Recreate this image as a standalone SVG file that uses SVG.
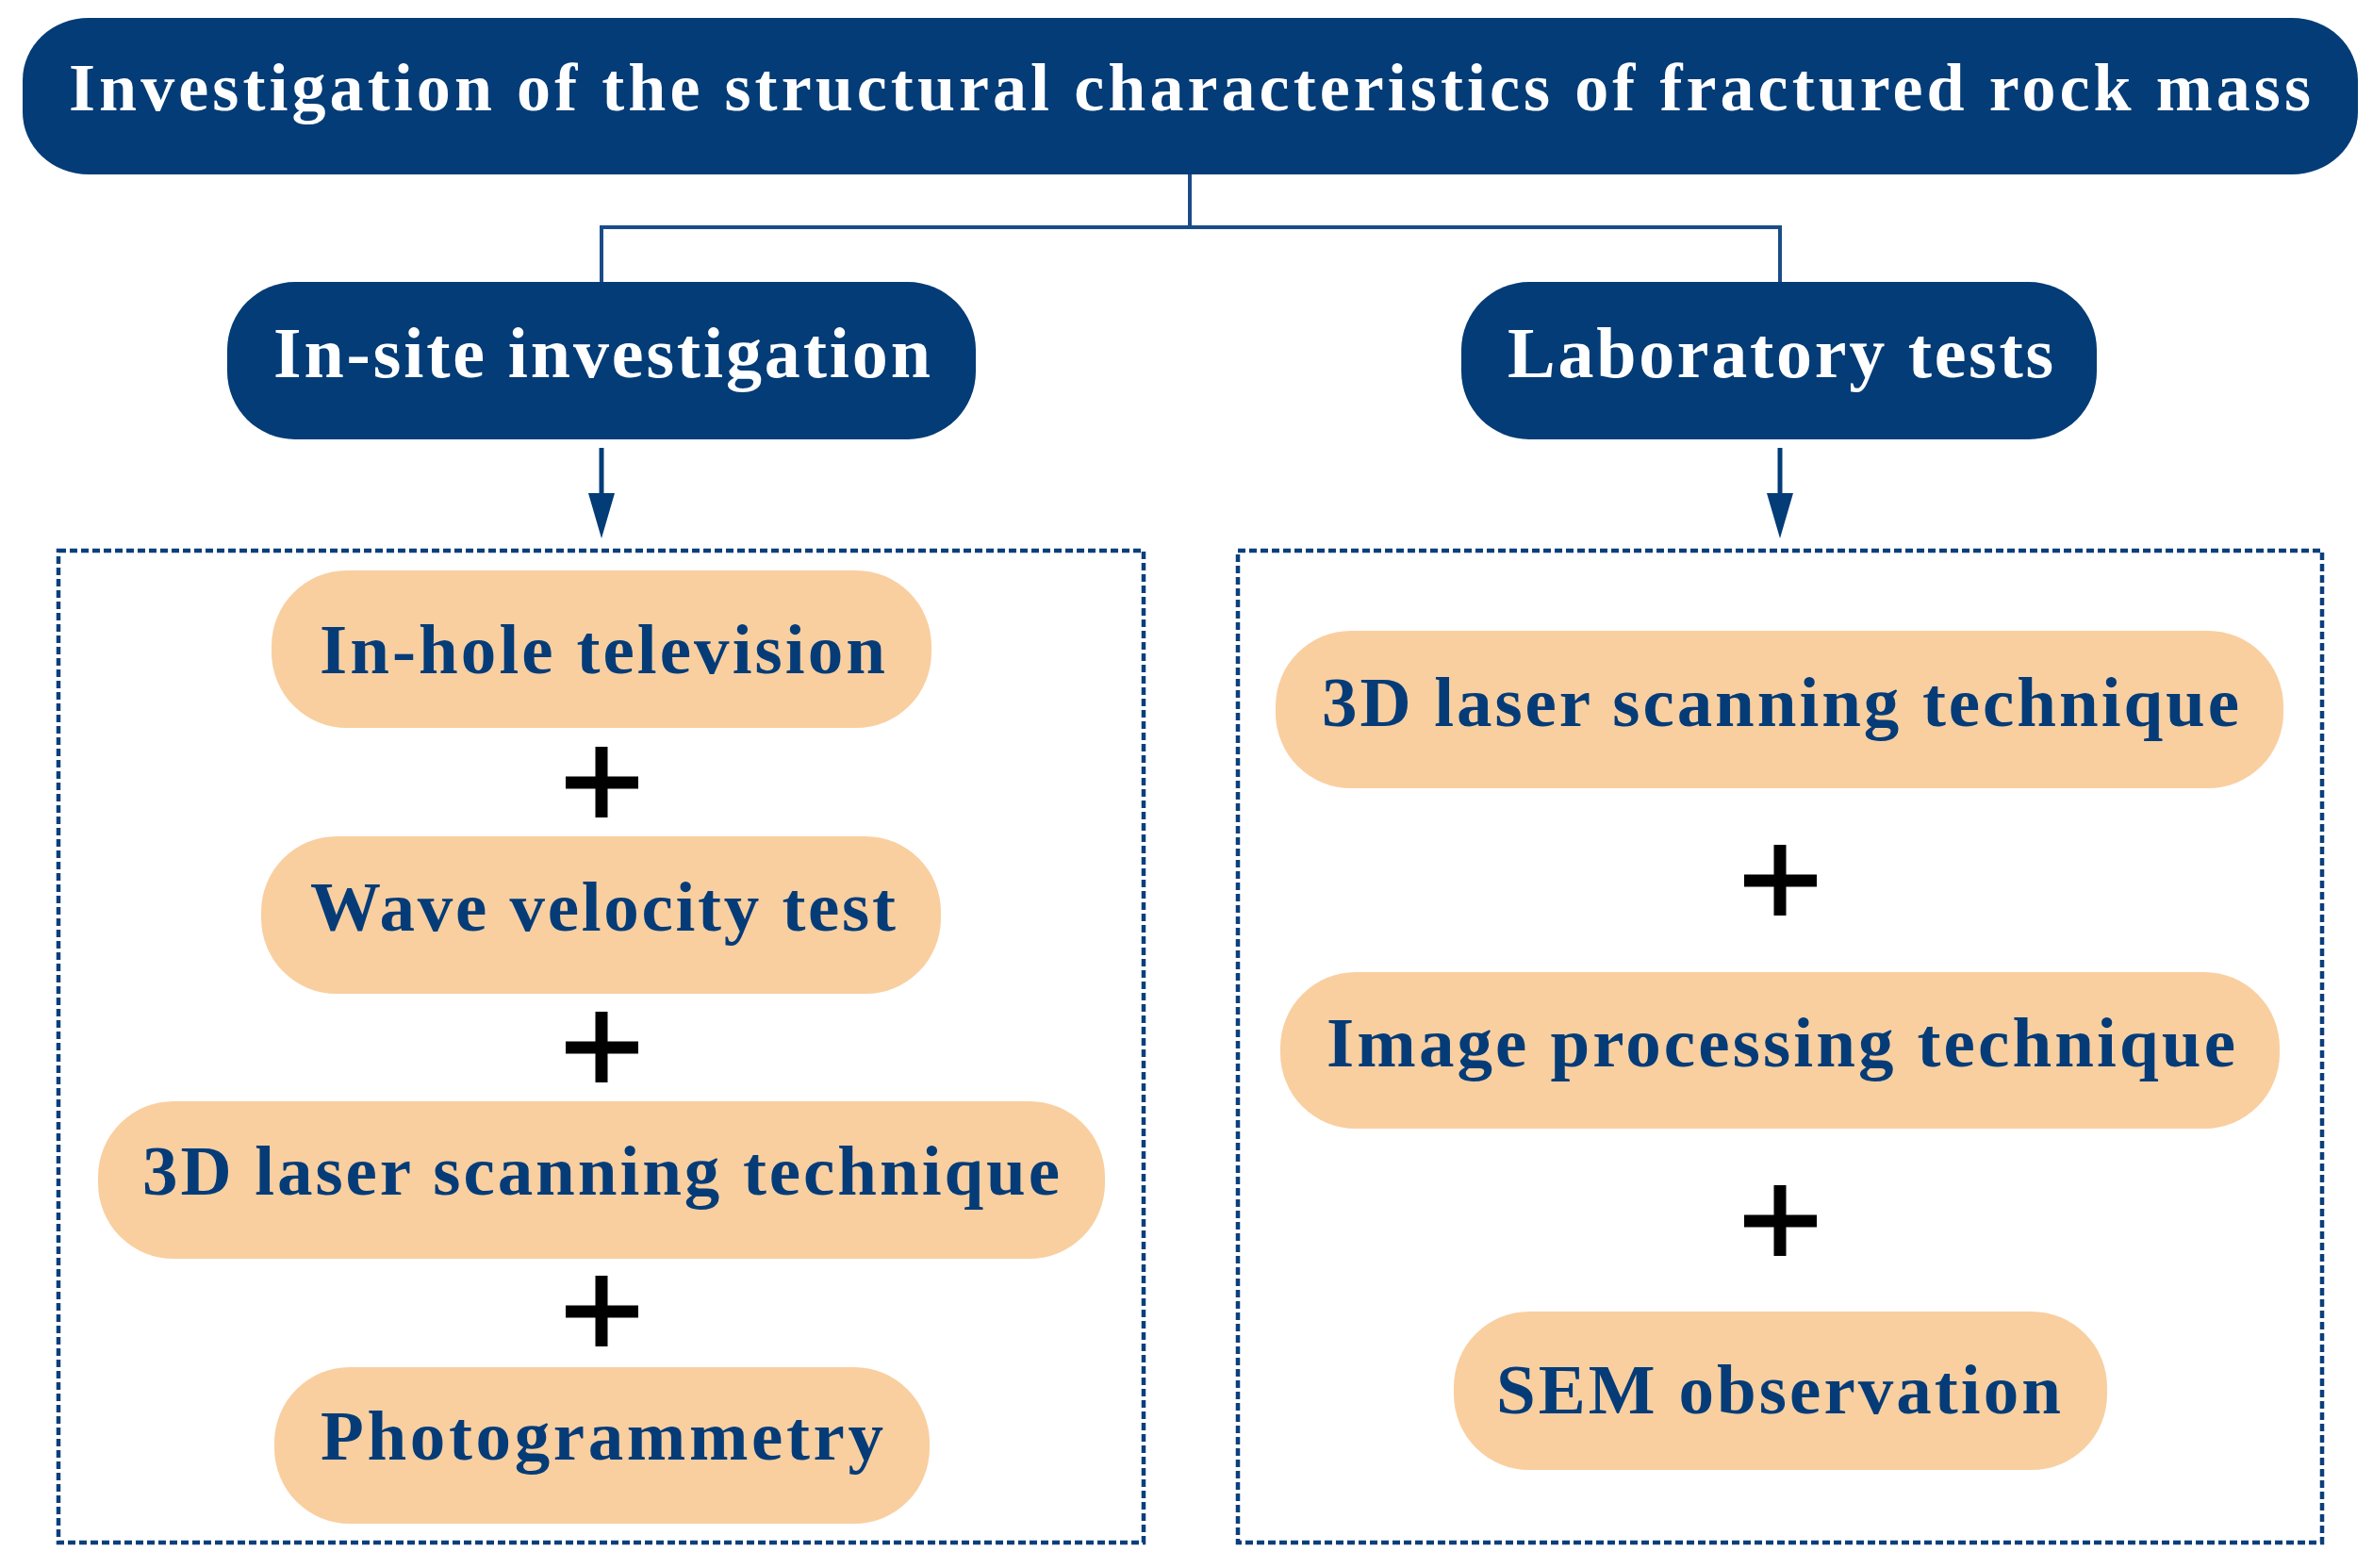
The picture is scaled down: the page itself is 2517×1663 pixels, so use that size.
<svg xmlns="http://www.w3.org/2000/svg" width="2517" height="1663" viewBox="0 0 2517 1663">
  <style>
    .navy { fill: #033c77; }
    .pill { fill: #f9cfa0; }
    .ttl { font-family: "Liberation Serif", "Times New Roman", serif; font-weight: bold; fill: #ffffff; }
    .lbl { font-family: "Liberation Serif", "Times New Roman", serif; font-weight: bold; fill: #053c78; font-size: 75px; }
    .conn { stroke: #1a4c88; stroke-width: 4; fill: none; }
    .dash { stroke: #0b3f7c; stroke-width: 4.5; fill: none; stroke-dasharray: 8 4; }
    .plus { stroke: #000000; stroke-width: 13; fill: none; }
  </style>
  <rect width="2517" height="1663" fill="#ffffff"/>

  <g id="connectors">
    <path class="conn" d="M1262,185 V241 M638,300 V241 H1888 V300"/>
    <line x1="638" y1="475" x2="638" y2="525" stroke="#033c77" stroke-width="5"/>
    <path d="M624,523 L652,523 L638,571 Z" fill="#033c77"/>
    <line x1="1888" y1="475" x2="1888" y2="525" stroke="#033c77" stroke-width="5"/>
    <path d="M1874,523 L1902,523 L1888,571 Z" fill="#033c77"/>
  </g>

  <g id="title">
    <rect class="navy" x="24" y="19" width="2477" height="166" rx="70" ry="66"/>
    <text class="ttl" x="73" y="117" font-size="72" textLength="2378" lengthAdjust="spacing">Investigation of the structural characteristics of fractured rock mass</text>
  </g>

  <g id="in-site">
    <rect class="navy" x="241" y="299" width="794" height="167" rx="72" ry="72"/>
    <text class="ttl" x="290" y="400" font-size="76" textLength="697" lengthAdjust="spacing">In-site investigation</text>
  </g>

  <g id="laboratory">
    <rect class="navy" x="1550" y="299" width="674" height="167" rx="72" ry="72"/>
    <text class="ttl" x="1599" y="400" font-size="76" textLength="579" lengthAdjust="spacing">Laboratory tests</text>
  </g>

  <g id="in-site-group">
    <rect class="dash" x="62" y="584" width="1151" height="1052"/>
  </g>
  <g id="lab-group">
    <rect class="dash" x="1313" y="584" width="1150" height="1052"/>
  </g>

  <g id="in-hole">
    <rect class="pill" x="288" y="605" width="700" height="167" rx="80" ry="80"/>
    <text class="lbl" x="339" y="714" textLength="600" lengthAdjust="spacing">In-hole television</text>
  </g>
  <g id="plus-l1"><path class="plus" d="M600,830 H677 M638,792 V867"/></g>

  <g id="wave">
    <rect class="pill" x="277" y="887" width="721" height="167" rx="80" ry="80"/>
    <text class="lbl" x="329" y="987" textLength="621" lengthAdjust="spacing">Wave velocity test</text>
  </g>
  <g id="plus-l2"><path class="plus" d="M600,1111 H677 M638,1073 V1148"/></g>

  <g id="laser-left">
    <rect class="pill" x="104" y="1168" width="1068" height="167" rx="80" ry="80"/>
    <text class="lbl" x="151" y="1267" textLength="973" lengthAdjust="spacing">3D laser scanning technique</text>
  </g>
  <g id="plus-l3"><path class="plus" d="M600,1391 H677 M638,1353 V1428"/></g>

  <g id="photo">
    <rect class="pill" x="291" y="1450" width="695" height="166" rx="80" ry="80"/>
    <text class="lbl" x="340" y="1548" textLength="597" lengthAdjust="spacing">Photogrammetry</text>
  </g>

  <g id="laser-right">
    <rect class="pill" x="1353" y="669" width="1069" height="167" rx="80" ry="80"/>
    <text class="lbl" x="1402" y="770" textLength="973" lengthAdjust="spacing">3D laser scanning technique</text>
  </g>
  <g id="plus-r1"><path class="plus" d="M1850,934 H1927 M1888,896 V971"/></g>

  <g id="image">
    <rect class="pill" x="1358" y="1031" width="1060" height="166" rx="80" ry="80"/>
    <text class="lbl" x="1407" y="1131" textLength="964" lengthAdjust="spacing">Image processing technique</text>
  </g>
  <g id="plus-r2"><path class="plus" d="M1850,1295 H1927 M1888,1257 V1332"/></g>

  <g id="sem">
    <rect class="pill" x="1542" y="1391" width="693" height="168" rx="80" ry="80"/>
    <text class="lbl" x="1587" y="1499" textLength="599" lengthAdjust="spacing">SEM observation</text>
  </g>
</svg>
